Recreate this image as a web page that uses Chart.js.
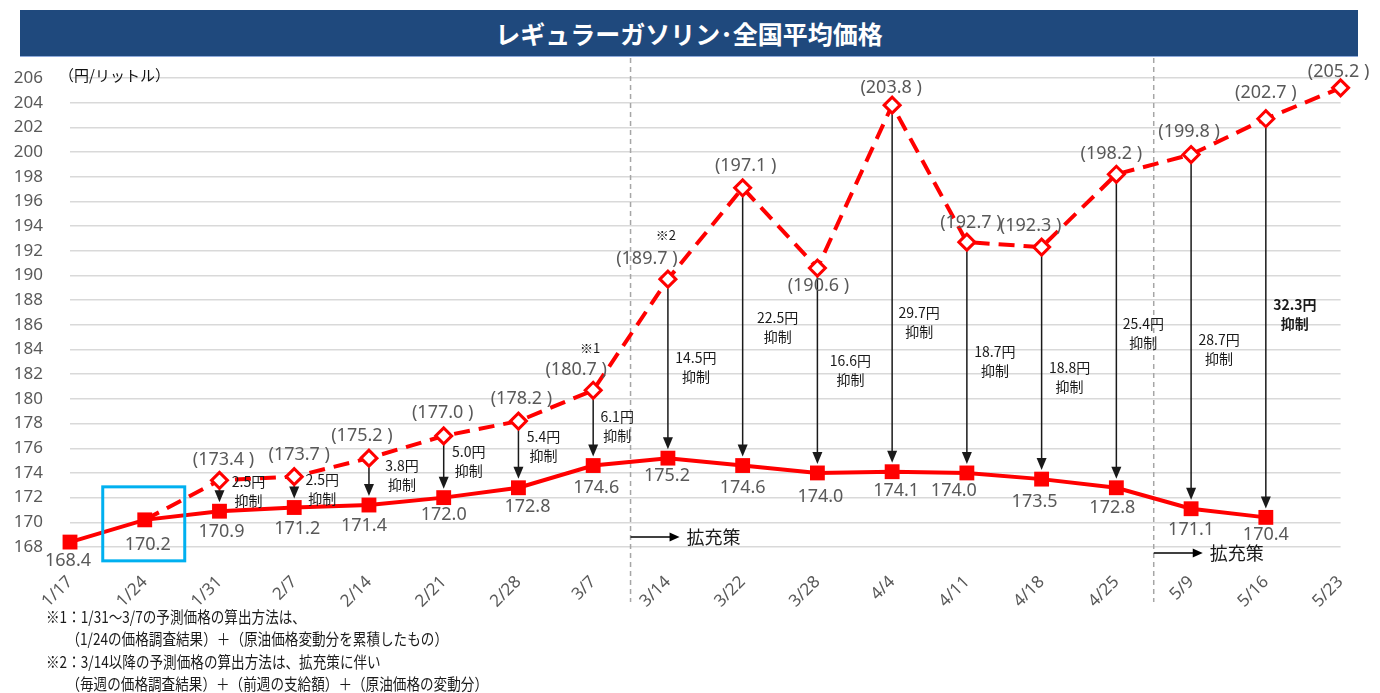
<!DOCTYPE html>
<html lang="ja">
<head>
<meta charset="utf-8">
<title>レギュラーガソリン・全国平均価格</title>
<script src="https://cdn.jsdelivr.net/npm/chart.js@4.4.1/dist/chart.umd.min.js"></script>
<style>
  html, body { margin: 0; padding: 0; background: #fff; }
  body { width: 1380px; height: 693px; position: relative; overflow: hidden; font-family: 'Noto Sans CJK JP', sans-serif; }
  #wrap { position: absolute; left: 0; top: 0; width: 1380px; height: 693px; }
  #title { position: absolute; left: 20px; top: 10px; width: 1338px; height: 46px; background: #1f497d; color: #fff;
           border-bottom: 1px solid #8eaadb; font-weight: bold; font-size: 25px; line-height: 46px; text-align: center; }
  #unit { position: absolute; left: 59px; top: 66px; font-size: 15px; line-height: 17px; color: #111; }
  #notes { position: absolute; left: 46px; top: 605px; font-size: 16px; line-height: 22.3px; color: #1a1a1a;
           transform: scaleX(0.85); transform-origin: left top; white-space: pre; }
</style>
</head>
<body>
<div id="wrap"><canvas id="myChart" width="1380" height="693"></canvas></div>
<div id="title">レギュラーガソリン･全国平均価格</div>
<div id="unit">（円/リットル）</div>
<div id="notes">※1：1/31～3/7の予測価格の算出方法は、
　　（1/24の価格調査結果）＋（原油価格変動分を累積したもの）
※2：3/14以降の予測価格の算出方法は、拡充策に伴い
　　（毎週の価格調査結果）＋（前週の支給額）＋（原油価格の変動分）</div>
<script>
// survey dates (x axis)
const dates = ['1/17', '1/24', '1/31', '2/7', '2/14', '2/21', '2/28', '3/7', '3/14',
  '3/22', '3/28', '4/4', '4/11', '4/18', '4/25', '5/9', '5/16', '5/23'];
// actual national average price
const actualPrice = [168.4, 170.2, 170.9, 171.2, 171.4, 172.0, 172.8, 174.6, 175.2,
  174.6, 174.0, 174.1, 174.0, 173.5, 172.8, 171.1, 170.4, null];
// estimated price without the subsidy
const forecastPrice = [null, 170.2, 173.4, 173.7, 175.2, 177.0, 178.2, 180.7, 189.7,
  197.1, 190.6, 203.8, 192.7, 192.3, 198.2, 199.8, 202.7, 205.2];
// "x円 抑制" labels, from 1/31 to 5/16
const suppressed = ['2.5', '2.5', '3.8', '5.0', '5.4', '6.1', '14.5', '22.5', '16.6',
  '29.7', '18.7', '18.8', '25.4', '28.7', '32.3'];
const boldSuppressed = ['5/16'];
// policy change points (the dashed separator comes after these dates)
const policySteps = ['3/7', '4/25'];
const yMin = 168, yMax = 206, yStep = 2;

const FONT = "'Noto Sans', 'Noto Sans CJK JP', sans-serif";
const JP = "'Noto Sans CJK JP', 'Noto Sans', sans-serif";
const RED = '#ff0000', GREY = '#595959', INK = '#1a1a1a';

// label nudges in px [dx, dy], by index
const actualNudge = [[-2,19],[3,25],[2,21],[3,21],[-5,21],[0,17],[9,19],[3,22],[-1,18],
  [0,22],[3,24],[4,19],[-13,18],[-7,23],[-4,20],[0,21],[0,17]];
const forecastNudge = {2:[4,-20],3:[5,-22],4:[-7,-22],5:[-1,-23],6:[3,-22],7:[-17,-20],8:[-21,-20],
  9:[3,-22],10:[1,18],11:[-1,-17],12:[4,-19],13:[-11,-21],14:[-5,-20],15:[-2,-23],16:[0,-26],17:[-2,-16]};
const noteNudge = [[29,-5],[28,-3],[33,-6],[25,-6],[25,-8],[24,-2],[28,-1],[35,0],[33,0],
  [27,34],[28,4],[28,14],[27,2],[28,18],[29,-4]];

function arrowHead(ctx, x, y, dir, len, half) {
  ctx.beginPath();
  if (dir === 'down') { ctx.moveTo(x, y); ctx.lineTo(x - half, y - len); ctx.lineTo(x + half, y - len); }
  else { ctx.moveTo(x, y); ctx.lineTo(x - len, y - half); ctx.lineTo(x - len, y + half); }
  ctx.closePath();
  ctx.fill();
}

const annotations = {
  id: 'annotations',
  beforeDatasetsDraw(chart) {
    const { ctx, scales: { x, y } } = chart;
    ctx.save();
    // dashed separators between policy periods
    ctx.strokeStyle = '#a6a6a6';
    ctx.lineWidth = 1.5;
    ctx.setLineDash([5, 4]);
    policySteps.forEach(d => {
      const i = dates.indexOf(d);
      const sx = (x.getPixelForValue(i) + x.getPixelForValue(i + 1)) / 2;
      ctx.beginPath(); ctx.moveTo(sx, 58); ctx.lineTo(sx, 602); ctx.stroke();
    });
    ctx.setLineDash([]);
    // suppression arrows
    ctx.strokeStyle = INK; ctx.fillStyle = INK; ctx.lineWidth = 1.5;
    suppressed.forEach((s, k) => {
      const i = k + 2;
      const px = x.getPixelForValue(i);
      const yF = y.getPixelForValue(forecastPrice[i]);
      const yA = y.getPixelForValue(actualPrice[i]);
      const tip = yA - 9;
      ctx.beginPath(); ctx.moveTo(px, yF + 9); ctx.lineTo(px, tip - 8); ctx.stroke();
      arrowHead(ctx, px, tip, 'down', 12, 5);
    });
    ctx.restore();
  },
  afterDatasetsDraw(chart) {
    const { ctx, chartArea, scales: { x, y } } = chart;
    ctx.save();
    ctx.textAlign = 'center';
    ctx.textBaseline = 'middle';
    // actual price labels
    ctx.fillStyle = GREY;
    ctx.font = '18px ' + FONT;
    actualPrice.forEach((v, i) => {
      if (v === null) return;
      const n = actualNudge[i] || [0, 20];
      ctx.fillText(v.toFixed(1), x.getPixelForValue(i) + n[0], y.getPixelForValue(v) + n[1]);
    });
    // forecast labels
    forecastPrice.forEach((v, i) => {
      const n = forecastNudge[i];
      if (v === null || !n) return;
      ctx.fillText('(' + v.toFixed(1) + ' )', x.getPixelForValue(i) + n[0], y.getPixelForValue(v) + n[1]);
    });
    // suppression notes
    ctx.fillStyle = INK;
    suppressed.forEach((s, k) => {
      const i = k + 2;
      const n = noteNudge[k];
      const bold = boldSuppressed.includes(dates[i]);
      ctx.font = (bold ? 'bold ' : '') + '14px ' + JP;
      const mid = (y.getPixelForValue(forecastPrice[i]) + y.getPixelForValue(actualPrice[i])) / 2 + n[1];
      const cx = x.getPixelForValue(i) + n[0];
      ctx.fillText(s + '円', cx, mid - 9.5);
      ctx.fillText('抑制', cx, mid + 9.5);
    });
    // footnote marks
    ctx.font = '13px ' + JP;
    [['※1', 7, -3, -42], ['※2', 8, -2, -44]].forEach(([t, i, dx, dy]) => {
      ctx.fillText(t, x.getPixelForValue(i) + dx, y.getPixelForValue(forecastPrice[i]) + dy);
    });
    // "→ 拡充策"
    policySteps.forEach((d, k) => {
      const i = dates.indexOf(d);
      const sx = (x.getPixelForValue(i) + x.getPixelForValue(i + 1)) / 2;
      const ay = k === 0 ? chartArea.bottom - 10 : chartArea.bottom + 6;
      ctx.strokeStyle = '#000'; ctx.fillStyle = '#000'; ctx.lineWidth = 1.5;
      ctx.beginPath(); ctx.moveTo(sx, ay); ctx.lineTo(sx + 40, ay); ctx.stroke();
      arrowHead(ctx, sx + 49, ay, 'right', 10, 4.5);
      ctx.fillStyle = INK;
      ctx.textAlign = 'left';
      ctx.font = '18px ' + JP;
      ctx.fillText('拡充策', sx + 56, ay);
    });
    // blue frame around the 1/24 baseline survey
    const bx = x.getPixelForValue(1), by = y.getPixelForValue(actualPrice[1]);
    ctx.strokeStyle = '#00b0f0';
    ctx.lineWidth = 3;
    ctx.strokeRect(bx - 42, by - 33, 82, 74);
    ctx.restore();
  }
};

Chart.defaults.font.family = FONT;

const chart = new Chart(document.querySelector('#myChart'), {
  type: 'line',
  data: {
    labels: dates,
    datasets: [
      {
        label: '全国平均価格',
        data: actualPrice,
        borderColor: RED,
        backgroundColor: RED,
        borderWidth: 4,
        pointStyle: 'rect',
        pointRadius: 10.5,
        pointBorderWidth: 0,
        pointBackgroundColor: RED,
        fill: false,
        clip: false
      },
      {
        label: '予測価格',
        data: forecastPrice,
        borderColor: RED,
        backgroundColor: '#fff',
        borderWidth: 4,
        borderDash: [16, 9],
        pointStyle: 'rectRot',
        pointRadius: forecastPrice.map((v, i) => (i < 2 ? 0 : 8)),
        pointBorderWidth: 3,
        pointBorderColor: RED,
        pointBackgroundColor: '#fff',
        fill: false,
        clip: false
      }
    ]
  },
  options: {
    responsive: false,
    animation: false,
    layout: { padding: { top: 78, right: 33, left: 0, bottom: 0 } },
    plugins: { legend: { display: false }, tooltip: { enabled: false } },
    scales: {
      x: {
        offset: false,
        grid: { display: false, drawTicks: false },
        border: { display: false },
        ticks: { autoSkip: false, minRotation: 45, maxRotation: 45, padding: 25, color: GREY, font: { size: 17 } },
        afterFit(scale) { scale.height = 146; }
      },
      y: {
        min: yMin,
        max: yMax,
        grid: { color: '#d9d9d9', lineWidth: 1.5, drawTicks: false },
        border: { display: false },
        ticks: { stepSize: yStep, padding: 27, color: GREY, font: { size: 17 } },
        afterFit(scale) { scale.width = 70; }
      }
    }
  },
  plugins: [annotations]
});
</script>
</body>
</html>
